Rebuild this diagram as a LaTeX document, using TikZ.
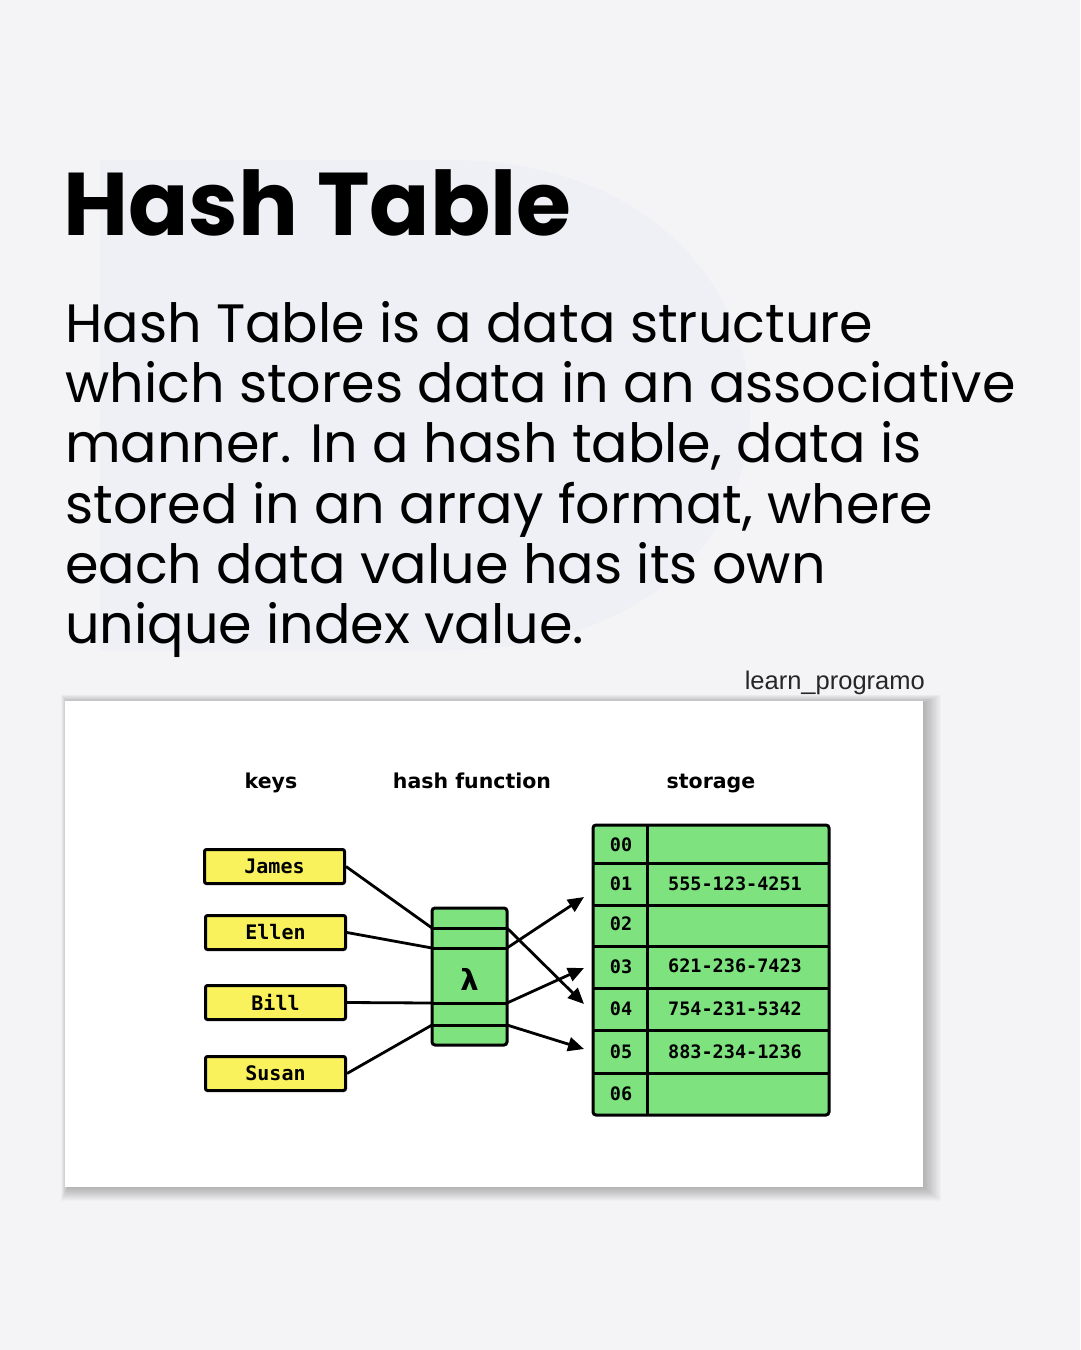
\documentclass[tikz,border=0pt]{standalone}
\usepackage{fontspec}
\setmainfont{Poppins}
\newfontfamily\headfont{DejaVu Sans}
\newfontfamily\monofont{DejaVu Sans Mono}
\newfontfamily\tagfont{Liberation Sans}
\usetikzlibrary{arrows.meta}
\definecolor{bgc}{RGB}{244,244,246}
\definecolor{wmc}{RGB}{239,240,245}
\definecolor{keyyellow}{RGB}{250,242,92}
\definecolor{hgreen}{RGB}{126,226,126}
\tikzset{
  keybox/.style={draw=black, line width=3pt, fill=keyyellow, rounded corners=2pt,
    minimum width=140pt, minimum height=34pt, inner sep=0pt,
    font=\monofont\bfseries\fontsize{20}{20}\selectfont},
  conn/.style={line width=2.8pt, black},
  arr/.style={conn, -{Triangle[length=16pt,width=14pt]}},
  heading/.style={font=\headfont\bfseries\fontsize{20.5}{20.5}\selectfont, anchor=base},
  cell/.style={font=\monofont\bfseries\fontsize{18.5}{18.5}\selectfont, inner sep=0pt},
  bodyline/.style={anchor=base west, inner sep=0pt, font=\fontsize{54}{60}\selectfont},
}
\begin{document}
\begin{tikzpicture}[x=1pt,y=-1pt]
\useasboundingbox (0,0) rectangle (1080,1350);
\fill[bgc] (0,0) rectangle (1080,1350);
% faint watermark shape
\fill[wmc] (100,160) -- (450,160) .. controls (640,160) and (750,280) .. (750,410)
  .. controls (750,540) and (640,650) .. (450,650) -- (100,650) -- cycle;
% title and text
\node[anchor=base west, inner sep=0pt, font=\bfseries\fontsize{89}{89}\selectfont] (title) at (63,235) {Hash Table};
\node[bodyline] (l1) at (65,342) {Hash Table is a data structure};
\node[bodyline] (l2) at (65,402) {which stores data in an associative};
\node[bodyline] (l3) at (65,462) {manner. In a hash table, data is};
\node[bodyline] (l4) at (65,523) {stored in an array format, where};
\node[bodyline] (l5) at (65,583) {each data value has its own};
\node[bodyline] (l6) at (65,643) {unique index value.};
\node[anchor=base east, inner sep=0pt, font=\tagfont\fontsize{25.5}{25.5}\selectfont, text=black!85] (tag) at (925,689) {learn\_programo};
% panel shadow
\foreach \i in {1,...,14}{
  \fill[black, opacity=0.018] ({65-\i*0.5+3},{701-\i*0.6+2}) rectangle ({923+\i*1.3},{1187+\i*1.0});
}
\fill[white] (65,701) rectangle (923,1187);
% headings
\node[heading] (hkeys) at (271,788) {keys};
\node[heading] (hhash) at (472,788) {hash function};
\node[heading] (hstore) at (711,788) {storage};
% keys
\node[keybox] (james) at (274.5,866.5) {James};
\node[keybox] (ellen) at (275.5,932.5) {Ellen};
\node[keybox] (bill) at (275.5,1002.5) {Bill};
\node[keybox] (susan) at (275.5,1073.5) {Susan};
% hash function box
\node[draw=black, line width=3pt, fill=hgreen, rounded corners=3pt, minimum width=75pt,
  minimum height=137pt, inner sep=0pt] (hash) at (469.5,976.5) {};
\node[font=\headfont\bfseries\fontsize{29}{29}\selectfont] (lam) at (469.5,979) {λ};
\coordinate (a1) at (432,928); \coordinate (a2) at (432,948);
\coordinate (a3) at (432,1003); \coordinate (a4) at (432,1025);
\coordinate (b1) at (507,928); \coordinate (b2) at (507,948);
\coordinate (b3) at (507,1003); \coordinate (b4) at (507,1025);
\draw[line width=3pt] (a1) -- (b1) (a2) -- (b2) (a3) -- (b3) (a4) -- (b4);
% storage table
\draw[line width=3pt, fill=hgreen, rounded corners=3pt] (593,825) rectangle (829,1115);
\foreach \y in {863,905,946,988,1030,1073}{
  \draw[line width=3pt] (593,\y) -- (829,\y);
}
\draw[line width=3pt] (647,825) -- (647,1115);
\node[cell] (i0) at (621,845) {00};
\node[cell] (i1) at (621,884) {01};
\node[cell] (i2) at (621,924) {02};
\node[cell] (i3) at (621,967) {03};
\node[cell] (i4) at (621,1009) {04};
\node[cell] (i5) at (621,1052) {05};
\node[cell] (i6) at (621,1094) {06};
\node[cell] (v1) at (735,884) {555-123-4251};
\node[cell] (v3) at (735,966) {621-236-7423};
\node[cell] (v4) at (735,1009) {754-231-5342};
\node[cell] (v5) at (735,1052) {883-234-1236};
% arrow targets
\coordinate (t1) at (584,897); \coordinate (t2) at (584,1004);
\coordinate (t3) at (584,968); \coordinate (t4) at (584,1049);
% connectors
\draw[conn] (james.east) -- (a1);
\draw[conn] (ellen.east) -- (a2);
\draw[conn] (bill.east) -- (a3);
\draw[conn] (susan.east) -- (a4);
\draw[arr] (b2) -- (t1);
\draw[arr] (b1) -- (t2);
\draw[arr] (b3) -- (t3);
\draw[arr] (b4) -- (t4);
\end{tikzpicture}
\end{document}
